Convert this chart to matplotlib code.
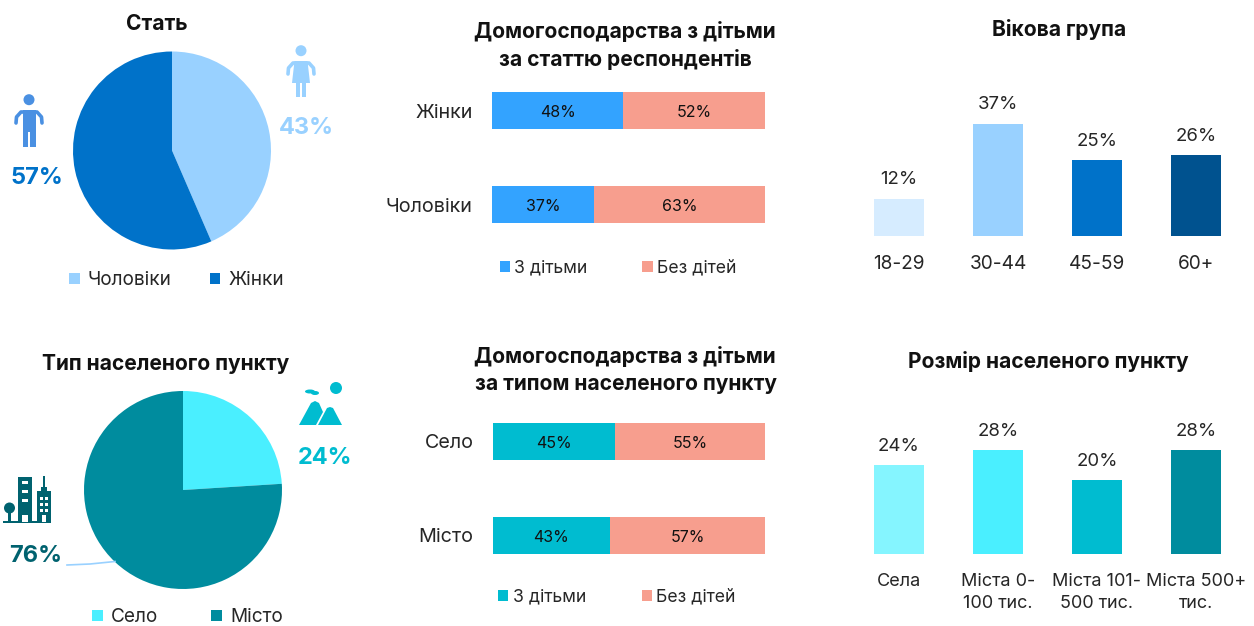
from matplotlib import pyplot as plt
from matplotlib.patches import Circle, Polygon, Rectangle, Ellipse

plt.rcParams['font.family'] = ['Inter', 'DejaVu Sans']

W, H = 1254, 626

# Кругові діаграми
gender_labels = ['Чоловіки', 'Жінки']
gender_values = [43.5, 56.5]
place_labels = ['Село', 'Місто']
place_values = [24, 76]

# Складені смуги
bar_series = ['З дітьми', 'Без дітей']
resp_labels = ['Жінки', 'Чоловіки']
resp_with = [48, 37.4]
resp_without = [52, 63]
type_labels = ['Село', 'Місто']
type_with = [45, 43]
type_without = [55, 57]

# Стовпчики
age_labels = ['18-29', '30-44', '45-59', '60+']
age_values = [12.2, 37, 25, 26.6]
size_labels = ['Села', 'Міста 0-\n100 тис.', 'Міста 101-\n500 тис.', 'Міста 500+\nтис.']
size_values = [24, 28, 20, 28]

LIGHT_BLUE = '#99D1FF'
BLUE = '#0072C9'
BAR_BLUE = '#33A3FF'
NAVY = '#00528F'
PALE_BLUE = '#D6ECFF'
SALMON = '#F79E8E'
CYAN = '#4AEFFF'
PALE_CYAN = '#85F5FF'
MID_CYAN = '#00BCD0'
TEAL = '#008C9E'
DARK_TEAL = '#00626F'
MAN_BLUE = '#4A90E2'
TEXT = '#262626'


def px_axes(fig, left, top, right, bottom):
    # Осі, задані в пікселях картинки
    ax = fig.add_axes([left / W, 1 - bottom / H, (right - left) / W, (bottom - top) / H])
    return ax


def pie_chart(fig, cx, cy, r, values, labels, colors, legend_xy, gap):
    ax = px_axes(fig, cx - r, cy - r, cx + r, cy + r)
    wedges, _ = ax.pie(values, colors=colors, startangle=90, counterclock=False,
                       radius=1, wedgeprops={'clip_on': False, 'linewidth': 0})
    ax.set_xlim(-1, 1)
    ax.set_ylim(-1, 1)
    fig.legend(wedges, labels, loc='center', ncol=2, frameon=False, fontsize=13.7,
               bbox_to_anchor=(legend_xy[0] / W, 1 - legend_xy[1] / H),
               handlelength=0.55, handleheight=0.55, handletextpad=0.43,
               columnspacing=gap, labelcolor=TEXT)


def stacked_bars(fig, left, right, top, bottom, labels, first, second, first_color, legend_xy, gap):
    ax = px_axes(fig, left, top, right, bottom)
    b1 = ax.barh(labels, first, height=0.394, color=first_color, label=bar_series[0])
    b2 = ax.barh(labels, second, left=first, height=0.394, color=SALMON, label=bar_series[1])
    for bars in (b1, b2):
        for t in ax.bar_label(bars, fmt='%d%%', label_type='center', fontsize=11.5, color='#111111'):
            t.xyann = (0, -1.4)
    ax.set_xlim(0, 100)
    ax.set_ylim(1.5, -0.5)
    ax.xaxis.set_visible(False)
    ax.tick_params(axis='y', length=0, pad=14, labelsize=14.2, labelcolor=TEXT)
    for s in ax.spines.values():
        s.set_visible(False)
    fig.legend(handles=[b1, b2], loc='center', ncol=2, frameon=False, fontsize=12.7,
               bbox_to_anchor=(legend_xy[0] / W, 1 - legend_xy[1] / H),
               handlelength=0.58, handleheight=0.58, handletextpad=0.25,
               columnspacing=gap, labelcolor=TEXT)


def columns(fig, bottom, scale, labels, values, colors, tick_size):
    # 99 пікселів між стовпчиками, ширина 50
    top = bottom - scale * 40
    ax = px_axes(fig, 849.5, top, 1245.5, bottom)
    bars = ax.bar(labels, values, width=0.505, color=colors)
    ax.bar_label(bars, fmt='%d%%', padding=7.5, fontsize=13.4, color=TEXT)
    ax.set_xlim(-0.5, 3.5)
    ax.set_ylim(0, 40)
    ax.yaxis.set_visible(False)
    ax.tick_params(axis='x', length=0, pad=14, labelsize=tick_size, labelcolor=TEXT)
    for t in ax.get_xticklabels():
        t.set_linespacing(1.38)
    for s in ax.spines.values():
        s.set_visible(False)


def person(ov, cx, top, color, skirt=False):
    # Значок людини
    ov.add_patch(Circle((cx, top + 5.7), 5.5, color=color, lw=0))
    ov.plot([cx - 13, cx - 12.5, cx - 8, cx + 8, cx + 12.5, cx + 13],
            [top + 29, top + 23, top + 18, top + 18, top + 23, top + 29],
            color=color, lw=2.6, solid_capstyle='round', solid_joinstyle='round')
    if skirt:
        ov.add_patch(Polygon([(cx - 6.5, top + 16), (cx + 6.5, top + 16), (cx + 9, top + 38), (cx - 9, top + 38)],
                             color=color, lw=0))
        ov.add_patch(Rectangle((cx - 4.8, top + 37), 4, 15, color=color, lw=0))
        ov.add_patch(Rectangle((cx + 0.8, top + 37), 4, 15, color=color, lw=0))
    else:
        ov.add_patch(Rectangle((cx - 6.5, top + 16), 13, 22, color=color, lw=0))
        ov.add_patch(Rectangle((cx - 6.5, top + 36), 5.5, 16.5, color=color, lw=0))
        ov.add_patch(Rectangle((cx + 1, top + 36), 5.5, 16.5, color=color, lw=0))


def mountains(ov, color):
    ov.add_patch(Circle((336, 388), 6, color=color, lw=0))
    ov.add_patch(Ellipse((310, 391.5), 10, 4, color=color, lw=0))
    ov.add_patch(Ellipse((315, 393), 8, 4, color=color, lw=0))
    ov.add_patch(Polygon([(299, 425), (311, 403), (315, 401), (319, 403), (323, 412), (316, 425)], color=color, lw=0))
    ov.add_patch(Polygon([(318, 425), (327, 408), (330, 407), (333, 408), (342, 425)], color=color, lw=0))


def city(ov, color):
    ov.add_patch(Rectangle((3, 521), 48, 2, color=color, lw=0))
    ov.add_patch(Circle((9.5, 508), 5.5, color=color, lw=0))
    ov.add_patch(Rectangle((8.3, 510), 2.4, 12, color=color, lw=0))
    ov.add_patch(Rectangle((18, 477), 14, 45, color=color, lw=0))
    ov.add_patch(Rectangle((37, 491), 14, 31, color=color, lw=0))
    ov.add_patch(Rectangle((41, 487), 6, 5, color=color, lw=0))
    ov.add_patch(Rectangle((43, 476), 2, 12, color=color, lw=0))
    # Вікна
    for y in [481, 490, 499]:
        ov.add_patch(Rectangle((22, y), 6, 2.5, color='white', lw=0))
    ov.add_patch(Rectangle((22, 515), 6, 7, color='white', lw=0))
    for y in [497, 503, 509]:
        for x in [40, 45]:
            ov.add_patch(Rectangle((x, y), 2.5, 3, color='white', lw=0))
    ov.add_patch(Rectangle((42, 515), 4, 7, color='white', lw=0))


fig = plt.figure(figsize=(W / 100, H / 100), dpi=100)

pie_chart(fig, 172, 150.5, 99, gender_values, gender_labels, [LIGHT_BLUE, BLUE], (176.5, 280), 2.0)
pie_chart(fig, 183, 490, 99, place_values, place_labels, [CYAN, TEAL], (187.5, 617), 2.8)

stacked_bars(fig, 492, 765, 63.5, 251.5, resp_labels, resp_with, resp_without, BAR_BLUE, (618, 268), 3.1)
stacked_bars(fig, 493, 765, 394.5, 582.5, type_labels, type_with, type_without, MID_CYAN, (617, 597), 3.15)

columns(fig, 236, 3.04, age_labels, age_values, [PALE_BLUE, LIGHT_BLUE, BLUE, NAVY], 13.7)
columns(fig, 554, 3.7, size_labels, size_values, [PALE_CYAN, CYAN, MID_CYAN, TEAL], 13.0)

# Верхній шар для заголовків, підписів і значків
ov = fig.add_axes([0, 0, 1, 1], zorder=5)
ov.set_xlim(0, W)
ov.set_ylim(H, 0)
ov.axis('off')

titles = [
    (157, 23.5, 'Стать'),
    (166, 364.5, 'Тип населеного пункту'),
    (625, 31.5, 'Домогосподарства з дітьми'),
    (625, 59.5, 'за статтю респондентів'),
    (625, 356.5, 'Домогосподарства з дітьми'),
    (626, 384.5, 'за типом населеного пункту'),
    (1059, 29.5, 'Вікова група'),
    (1048, 361.5, 'Розмір населеного пункту'),
]
for x, y, t in titles:
    ov.text(x, y, t, ha='center', va='center', fontsize=15.1, fontweight='bold', color='#111111')

callouts = [
    (37, 177.5, '57%', BLUE),
    (306, 128, '43%', LIGHT_BLUE),
    (325, 457.5, '24%', MID_CYAN),
    (36, 556.5, '76%', DARK_TEAL),
]
for x, y, t, c in callouts:
    ov.text(x, y, t, ha='center', va='center', fontsize=17, fontweight='bold', color=c)

person(ov, 29, 94, MAN_BLUE)
person(ov, 301, 45, LIGHT_BLUE, skirt=True)
mountains(ov, MID_CYAN)
city(ov, DARK_TEAL)
ov.plot([67, 90, 115], [565, 564, 561.5], color=LIGHT_BLUE, lw=1.2)

fig.savefig('out.png', dpi=100)
